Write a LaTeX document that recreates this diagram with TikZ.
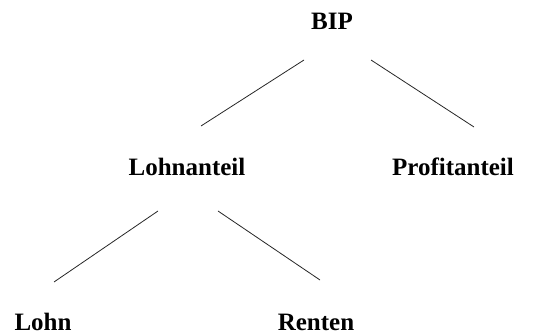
\documentclass[tikz,border=0pt]{standalone}
\usepackage{fontspec}
\setmainfont{Liberation Serif}
\begin{document}
\begin{tikzpicture}[x=1pt,y=-1pt,
  lbl/.style={font=\fontsize{25}{30}\selectfont\bfseries, inner sep=0pt, anchor=base},
  conn/.style={draw=black!85, line width=0.8pt}]
\useasboundingbox (0,0) rectangle (544,336);
\node[lbl] (bip) at (332,30) {BIP};
\node[lbl] (lohnanteil) at (187,176) {Lohnanteil};
\node[lbl] (profitanteil) at (453,176) {Profitanteil};
\node[lbl] (lohn) at (43,331) {Lohn};
\node[lbl] (renten) at (316,331) {Renten};
\coordinate (b1) at (304,60);
\coordinate (b2) at (201,126);
\coordinate (b3) at (371,60);
\coordinate (b4) at (474,127);
\coordinate (l1) at (158,211);
\coordinate (l2) at (54,282);
\coordinate (l3) at (218,211);
\coordinate (l4) at (320,280);
\draw[conn] (b1) -- (b2);
\draw[conn] (b3) -- (b4);
\draw[conn] (l1) -- (l2);
\draw[conn] (l3) -- (l4);
\end{tikzpicture}
\end{document}
